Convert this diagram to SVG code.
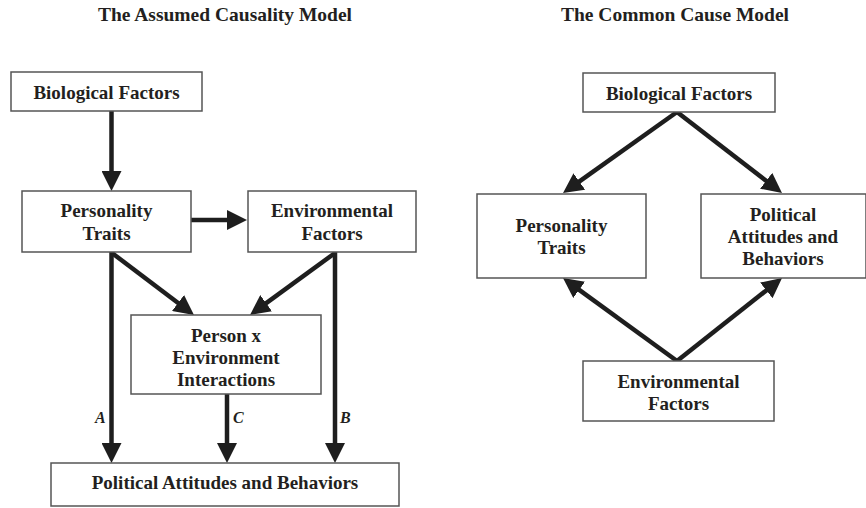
<svg xmlns="http://www.w3.org/2000/svg" width="866" height="508" viewBox="0 0 866 508">
<style>
.box{fill:#fff;stroke:#555;stroke-width:1.5}
.t{font-family:"Liberation Serif","Times New Roman",serif;font-weight:bold;font-size:19px;fill:#231f20;text-anchor:middle}
.title{font-family:"Liberation Serif","Times New Roman",serif;font-weight:bold;font-size:19.5px;fill:#231f20;text-anchor:middle}
.lbl{font-family:"Liberation Serif","Times New Roman",serif;font-weight:bold;font-style:italic;font-size:16px;fill:#231f20}
.arr{stroke:#1e1e1e;stroke-width:4.5;fill:none;marker-end:url(#ah)}
</style>
<defs>
<marker id="ah" markerUnits="userSpaceOnUse" viewBox="0 0 20 20" markerWidth="20" markerHeight="20" refX="8" refY="10" orient="auto">
<path d="M0,0 L20,10 L0,20 z" fill="#1e1e1e"/>
</marker>
</defs>
<rect width="866" height="508" fill="#fff"/>
<text class="title" x="225" y="21">The Assumed Causality Model</text>
<text class="title" x="675" y="21">The Common Cause Model</text>

<g id="connectors">
<line class="arr" x1="111.5" y1="111" x2="111.5" y2="179"/>
<line class="arr" x1="191" y1="220" x2="235" y2="220"/>
<line class="arr" x1="111.5" y1="252" x2="111.5" y2="451"/>
<line class="arr" x1="112" y1="253" x2="184.4" y2="307.8"/>
<line class="arr" x1="335" y1="253" x2="259.7" y2="307.9"/>
<line class="arr" x1="335" y1="252" x2="335" y2="451"/>
<line class="arr" x1="227" y1="394" x2="227" y2="451"/>
<line class="arr" x1="677" y1="112" x2="572.8" y2="186.1"/>
<line class="arr" x1="677" y1="112" x2="772.5" y2="185.7"/>
<line class="arr" x1="677" y1="361" x2="572.7" y2="285.1"/>
<line class="arr" x1="677" y1="361" x2="772.6" y2="285.4"/>
<text class="lbl" x="95" y="423">A</text>
<text class="lbl" x="233" y="423">C</text>
<text class="lbl" x="340" y="423">B</text>
</g>

<g id="l-bio">
<rect class="box" x="11" y="72" width="191" height="39"/>
<text class="t" x="106.5" y="99">Biological Factors</text>
</g>
<g id="l-pers">
<rect class="box" x="22" y="191" width="169" height="61"/>
<text class="t" x="106.5" y="217">Personality</text>
<text class="t" x="106.5" y="240">Traits</text>
</g>
<g id="l-env">
<rect class="box" x="248" y="191" width="168" height="61"/>
<text class="t" x="332" y="217">Environmental</text>
<text class="t" x="332" y="240">Factors</text>
</g>
<g id="l-pxe">
<rect class="box" x="131" y="315" width="190" height="79"/>
<text class="t" x="226" y="342">Person x</text>
<text class="t" x="226" y="364">Environment</text>
<text class="t" x="226" y="386">Interactions</text>
</g>
<g id="l-pol">
<rect class="box" x="51" y="463" width="348" height="43"/>
<text class="t" x="225" y="489">Political Attitudes and Behaviors</text>
</g>

<g id="r-bio">
<rect class="box" x="583" y="73" width="192" height="39"/>
<text class="t" x="679" y="100">Biological Factors</text>
</g>
<g id="r-pers">
<rect class="box" x="477" y="194" width="169" height="84"/>
<text class="t" x="561.5" y="232">Personality</text>
<text class="t" x="561.5" y="254">Traits</text>
</g>
<g id="r-pol">
<rect class="box" x="701" y="194" width="165" height="84"/>
<text class="t" x="783" y="221">Political</text>
<text class="t" x="783" y="243">Attitudes and</text>
<text class="t" x="783" y="265">Behaviors</text>
</g>
<g id="r-env">
<rect class="box" x="583" y="361" width="191" height="60"/>
<text class="t" x="678.5" y="388">Environmental</text>
<text class="t" x="678.5" y="410">Factors</text>
</g>
</svg>
